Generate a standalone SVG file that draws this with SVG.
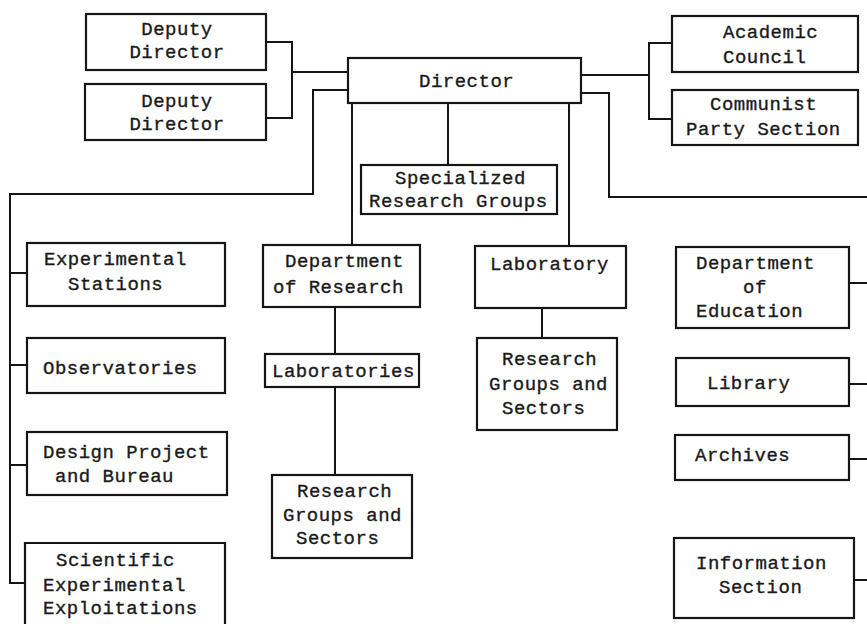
<svg xmlns="http://www.w3.org/2000/svg" width="867" height="624" viewBox="0 0 867 624">
  <style>
    .box { fill: #ffffff; stroke: #151515; stroke-width: 2.2; }
    .wire { fill: none; stroke: #151515; stroke-width: 2; stroke-linejoin: miter; }
    text { font-family: "Liberation Mono", "Courier New", monospace; font-size: 19px; letter-spacing: 0.5px; fill: #1a1a1a; stroke: #1a1a1a; stroke-width: 0.35px; }
  </style>
  <rect width="867" height="624" fill="#ffffff"/>

  <!-- connectors -->
  <g id="connectors">
    <!-- deputies to director -->
    <polyline class="wire" points="266,42 292,42 292,118 266,118"/>
    <line class="wire" x1="292" y1="72" x2="348" y2="72"/>
    <!-- councils to director -->
    <line class="wire" x1="581" y1="75" x2="649" y2="75"/>
    <polyline class="wire" points="672,43 649,43 649,119 672,119"/>
    <!-- director to left column -->
    <polyline class="wire" points="348,90 313,90 313,194 10,194 10,583 25,583"/>
    <line class="wire" x1="10" y1="273" x2="27" y2="273"/>
    <line class="wire" x1="10" y1="365" x2="27" y2="365"/>
    <line class="wire" x1="10" y1="465" x2="27" y2="465"/>
    <!-- director to right column -->
    <polyline class="wire" points="581,93 609,93 609,197 867,197"/>
    <line class="wire" x1="849" y1="283" x2="867" y2="283"/>
    <line class="wire" x1="849" y1="384" x2="867" y2="384"/>
    <line class="wire" x1="849" y1="459" x2="867" y2="459"/>
    <line class="wire" x1="854" y1="580" x2="867" y2="580"/>
    <!-- director down -->
    <line class="wire" x1="352" y1="103" x2="352" y2="245"/>
    <line class="wire" x1="448" y1="103" x2="448" y2="165"/>
    <line class="wire" x1="569" y1="103" x2="569" y2="246"/>
    <!-- department of research chain -->
    <line class="wire" x1="335" y1="307" x2="335" y2="354"/>
    <line class="wire" x1="335" y1="387" x2="335" y2="475"/>
    <!-- laboratory chain -->
    <line class="wire" x1="542" y1="308" x2="542" y2="338"/>
  </g>

  <g id="deputy-director-1">
    <rect class="box" x="86" y="14" width="180" height="56"/>
    <text x="177" y="35" text-anchor="middle">Deputy</text>
    <text x="177" y="58" text-anchor="middle">Director</text>
  </g>
  <g id="deputy-director-2">
    <rect class="box" x="85" y="84" width="181" height="56"/>
    <text x="177" y="107" text-anchor="middle">Deputy</text>
    <text x="177" y="130" text-anchor="middle">Director</text>
  </g>
  <g id="director">
    <rect class="box" x="348" y="58" width="233" height="45"/>
    <text x="419" y="87">Director</text>
  </g>
  <g id="academic-council">
    <rect class="box" x="672" y="16" width="186" height="56"/>
    <text x="723" y="38">Academic</text>
    <text x="723" y="63">Council</text>
  </g>
  <g id="party-section">
    <rect class="box" x="672" y="90" width="186" height="55"/>
    <text x="710" y="110">Communist</text>
    <text x="686" y="135">Party Section</text>
  </g>
  <g id="specialized-groups">
    <rect class="box" x="361" y="165" width="196" height="49"/>
    <text x="395" y="184">Specialized</text>
    <text x="369" y="207">Research Groups</text>
  </g>

  <g id="experimental-stations">
    <rect class="box" x="27" y="243" width="198" height="63"/>
    <text x="44" y="265">Experimental</text>
    <text x="68" y="290">Stations</text>
  </g>
  <g id="observatories">
    <rect class="box" x="27" y="338" width="198" height="55"/>
    <text x="43" y="374">Observatories</text>
  </g>
  <g id="design-bureau">
    <rect class="box" x="27" y="432" width="200" height="63"/>
    <text x="43" y="458">Design Project</text>
    <text x="55" y="482">and Bureau</text>
  </g>
  <g id="exploitations">
    <path class="box" d="M25,630 L25,543 L225,543 L225,630"/>
    <text x="56" y="566">Scientific</text>
    <text x="43" y="591">Experimental</text>
    <text x="43" y="614">Exploitations</text>
  </g>

  <g id="department-of-research">
    <rect class="box" x="263" y="245" width="157" height="62"/>
    <text x="285" y="267">Department</text>
    <text x="273" y="293">of Research</text>
  </g>
  <g id="laboratories">
    <rect class="box" x="265" y="354" width="154" height="33"/>
    <text x="272" y="377">Laboratories</text>
  </g>
  <g id="research-groups-left">
    <rect class="box" x="272" y="475" width="140" height="83"/>
    <text x="297" y="497">Research</text>
    <text x="283" y="521">Groups and</text>
    <text x="296" y="544">Sectors</text>
  </g>

  <g id="laboratory">
    <rect class="box" x="475" y="246" width="151" height="62"/>
    <text x="490" y="270">Laboratory</text>
  </g>
  <g id="research-groups-mid">
    <rect class="box" x="477" y="338" width="140" height="92"/>
    <text x="502" y="365">Research</text>
    <text x="489" y="390">Groups and</text>
    <text x="502" y="414">Sectors</text>
  </g>

  <g id="department-of-education">
    <rect class="box" x="676" y="247" width="173" height="81"/>
    <text x="696" y="269">Department</text>
    <text x="743" y="293">of</text>
    <text x="696" y="317">Education</text>
  </g>
  <g id="library">
    <rect class="box" x="676" y="358" width="173" height="48"/>
    <text x="707" y="389">Library</text>
  </g>
  <g id="archives">
    <rect class="box" x="675" y="435" width="174" height="45"/>
    <text x="695" y="461">Archives</text>
  </g>
  <g id="information-section">
    <rect class="box" x="674" y="538" width="180" height="80"/>
    <text x="696" y="569">Information</text>
    <text x="719" y="593">Section</text>
  </g>
</svg>
